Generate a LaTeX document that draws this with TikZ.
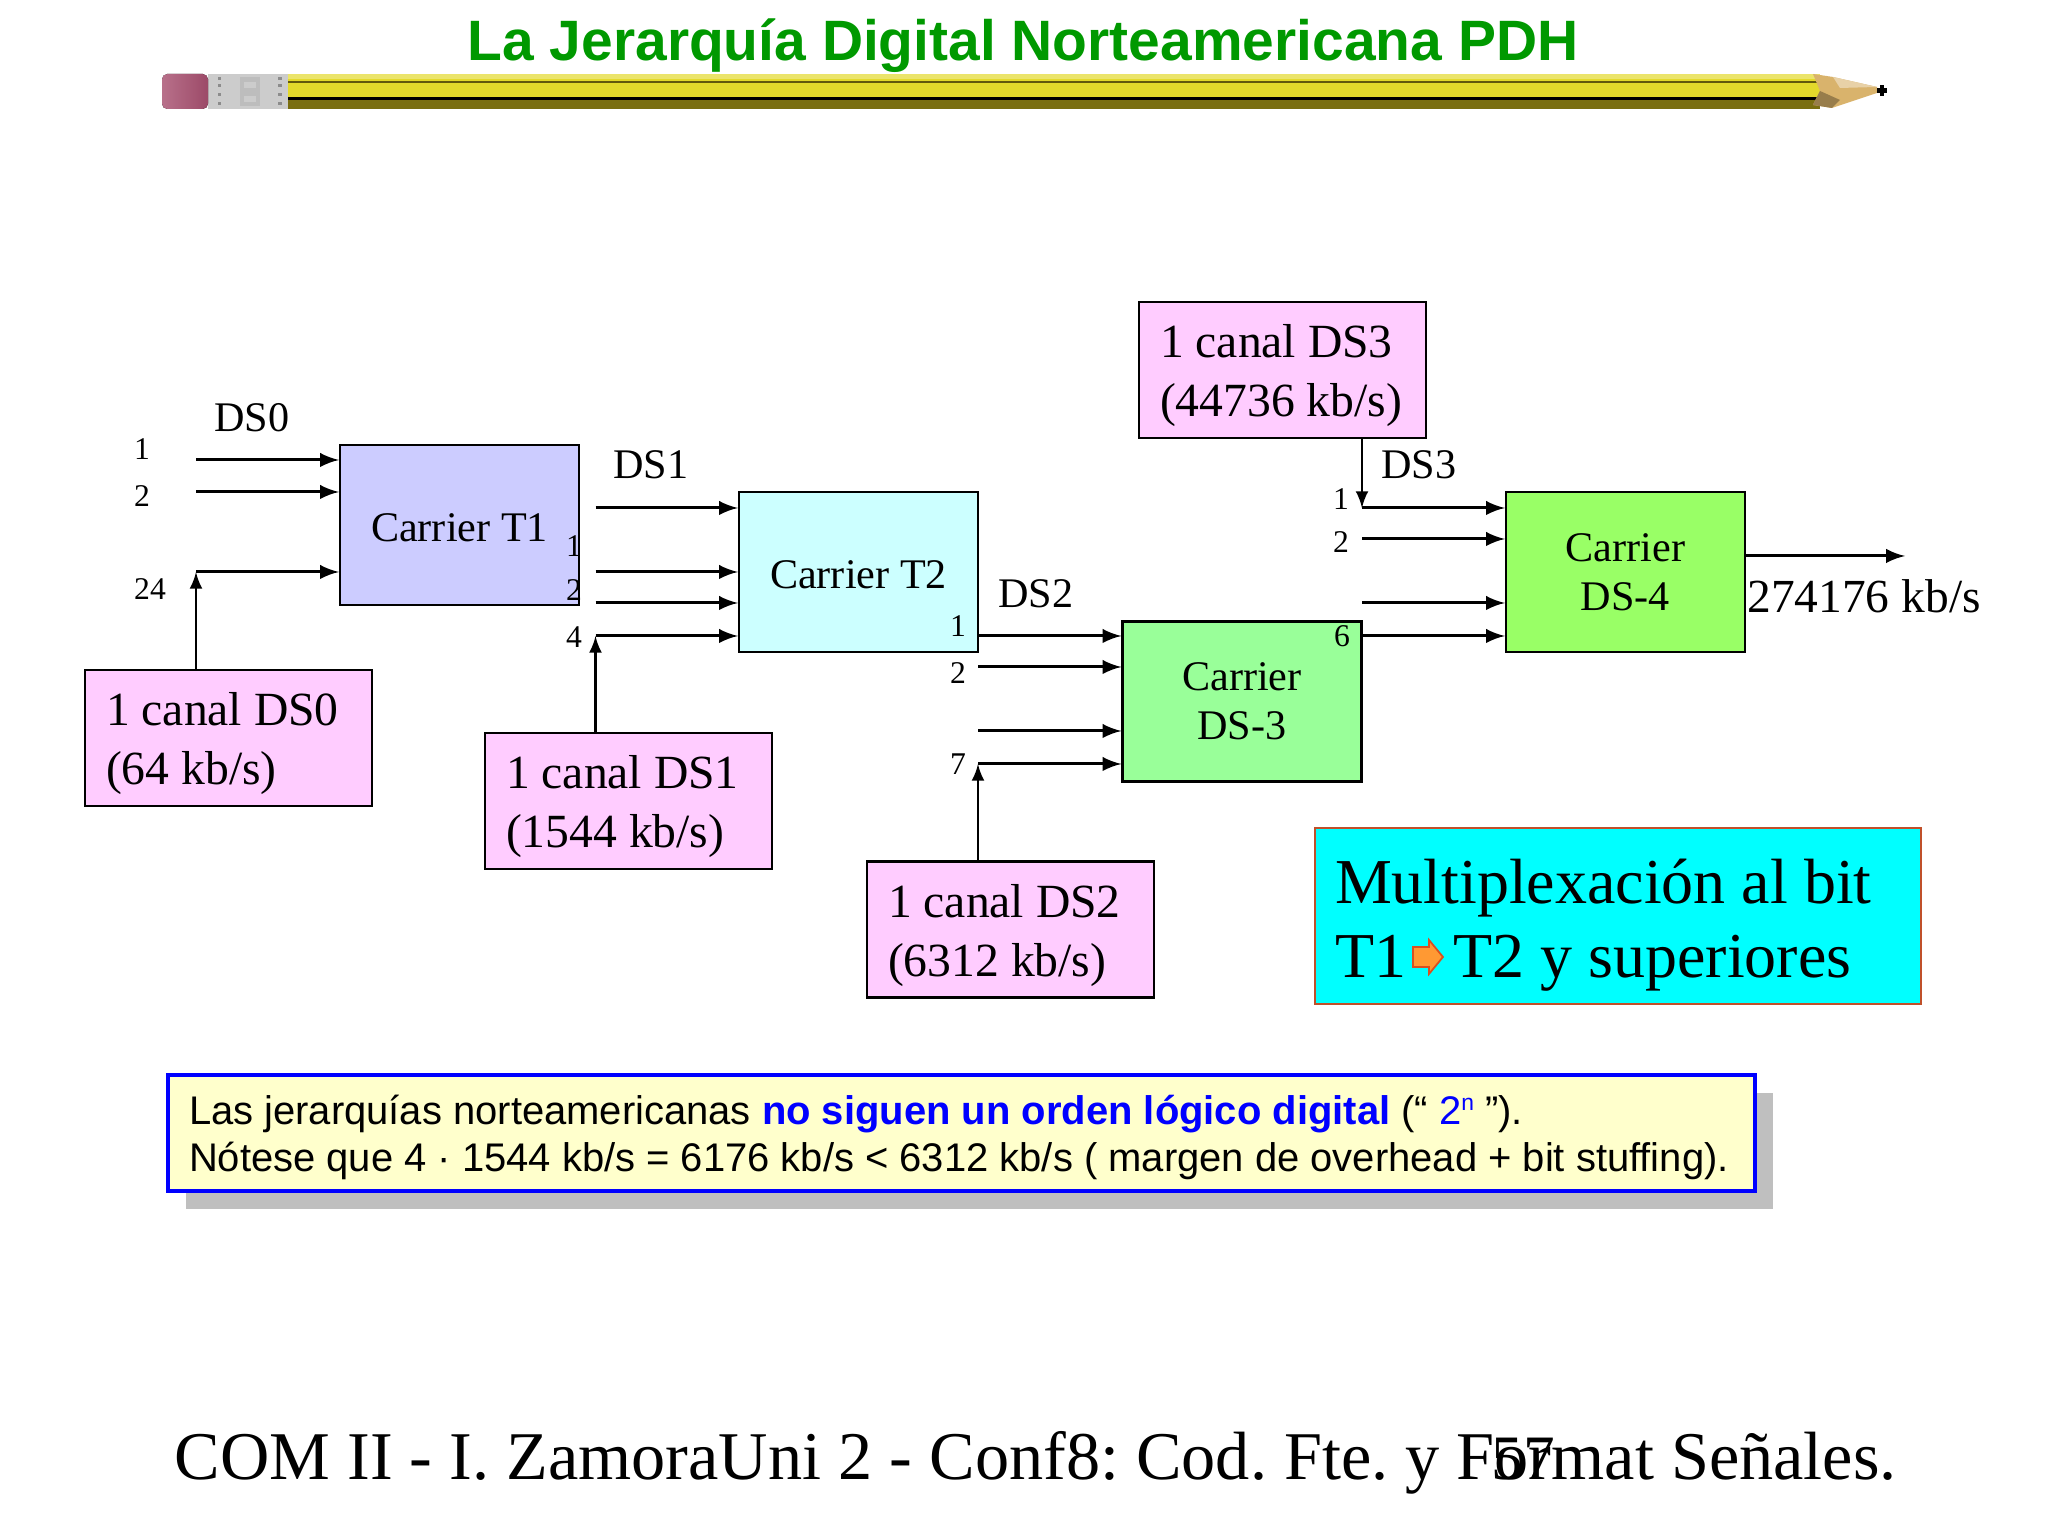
\documentclass[tikz,border=0pt]{standalone}
\usepackage{fontspec}
\setmainfont{Liberation Serif}
\newfontfamily\arialfont{Liberation Sans}
\usetikzlibrary{shadows}
\definecolor{pinkbox}{HTML}{FFCCFF}
\definecolor{tonebox}{HTML}{CCCCFF}
\definecolor{ttwobox}{HTML}{CCFFFF}
\definecolor{dsthreebox}{HTML}{99FF99}
\definecolor{dsfourbox}{HTML}{99FF66}
\definecolor{muxfill}{HTML}{00FFFF}
\definecolor{muxline}{HTML}{C0502A}
\definecolor{notefill}{HTML}{FFFFCC}
\definecolor{notegray}{HTML}{BFBFBF}
\definecolor{noteblue}{HTML}{0000FF}
\definecolor{titlegreen}{HTML}{009900}
\definecolor{pencilyellow}{HTML}{E3D92B}
\definecolor{pencilolive}{HTML}{7A6E10}
\definecolor{pencilwood}{HTML}{D9B36C}
\definecolor{eraserdark}{HTML}{9C4A68}
\definecolor{eraserlight}{HTML}{B8708A}
\definecolor{arrowfill}{HTML}{FF9933}
\definecolor{arrowline}{HTML}{D85020}
\tikzset{
  carrier/.style={draw,line width=0.6pt,minimum width=2.39cm,minimum height=1.60cm,inner sep=0pt,align=center,font=\fontsize{12}{14}\selectfont},
  canal/.style={draw,line width=0.6pt,fill=pinkbox,minimum width=2.87cm,minimum height=1.36cm,text width=2.45cm,inner xsep=0.21cm,inner ysep=0pt,align=flush left,font=\fontsize{13.55}{16.7}\selectfont,execute at begin node=\rule{0pt}{12.7pt}},
  tag/.style={inner sep=0pt,font=\fontsize{12}{14}\selectfont},
  num/.style={inner sep=0pt,font=\fontsize{9}{11}\selectfont},
  line/.style={line width=0.85pt,-latex},
  feed/.style={line width=0.65pt,-latex}
}
\begin{document}
\frenchspacing
\begin{tikzpicture}
  \useasboundingbox (0,0) rectangle (20.48,15.36);
  \fill[white] (0,0) rectangle (20.48,15.36); %baggrund
  \node (title) at (10.23,14.90) [inner sep=0pt,text=titlegreen,font=\arialfont\bfseries\fontsize{16.2}{19}\selectfont] {La Jerarquía Digital Norteamericana PDH}; %titel
  \fill[pencilyellow] (2.88,14.27) rectangle (18.20,14.62); %blyant
  \fill[pencilolive] (2.88,14.27) rectangle (18.20,14.36);
  \fill[black] (2.88,14.36) rectangle (18.20,14.39);
  \fill[pencilolive!80!black] (2.88,14.53) rectangle (18.20,14.55);
  \fill[pencilyellow!70!white] (2.88,14.57) rectangle (18.20,14.62);
  \fill[pencilwood] (18.13,14.62) -- (18.33,14.59) -- (18.77,14.49) -- (18.77,14.43) -- (18.32,14.28) -- (18.13,14.31) -- (18.20,14.45) -- cycle;
  \fill[pencilwood!60!white] (18.33,14.59) -- (18.77,14.49) -- (18.40,14.48) -- cycle;
  \fill[pencilwood!70!black] (18.13,14.31) -- (18.32,14.28) -- (18.40,14.36) -- (18.20,14.45) -- cycle;
  \fill[black] (18.77,14.43) rectangle (18.87,14.48);
  \fill[black] (18.80,14.40) rectangle (18.84,14.51);
  \fill[black!20] (2.08,14.27) rectangle (2.88,14.62); %metal
  \foreach \y in {14.32,14.41,14.50,14.57} {
    \fill[black!45] (2.18,\y-0.015) rectangle (2.21,\y+0.015);
    \fill[black!45] (2.78,\y-0.015) rectangle (2.82,\y+0.015);
  }
  \fill[black!26] (2.40,14.30) rectangle (2.60,14.59);
  \fill[black!20] (2.44,14.34) rectangle (2.56,14.40);
  \fill[black!20] (2.44,14.48) rectangle (2.56,14.54);
  \fill[rounded corners=1.5pt,left color=eraserlight,right color=eraserdark] (1.62,14.27) rectangle (2.08,14.62); %viskelaeder

  \node[carrier,fill=tonebox,execute at begin node=\rule{0pt}{9.7pt}] (t1) at (4.595,10.11) {Carrier T1};
  \node[carrier,fill=ttwobox,execute at begin node=\rule{0pt}{9.7pt}] (t2) at (8.585,9.64) {Carrier T2};
  \node[carrier,fill=dsthreebox,execute at begin node=\rule{0pt}{9pt}] (ds3) at (12.42,8.345) {Carrier\\DS-3};
  \node[carrier,fill=dsfourbox,execute at begin node=\rule{0pt}{9pt}] (ds4) at (16.255,9.64) {Carrier\\DS-4};

  \node[canal] (canal0) at (2.285,7.98) {1 canal DS0\\(64 kb/s)};
  \node[canal] (canal1) at (6.285,7.35) {1 canal DS1\\(1544 kb/s)};
  \node[canal] (canal2) at (10.105,6.065) {1 canal DS2\\(6312 kb/s)};
  \node[canal] (canal3) at (12.825,11.66) {1 canal DS3\\(44736 kb/s)};

  \coordinate (a1) at (1.96,10.76); %ind T1
  \coordinate (a2) at (1.96,10.44);
  \coordinate (a3) at (1.96,9.64);
  \coordinate (b1) at (5.955,10.28); %ind T2
  \coordinate (b2) at (5.955,9.64);
  \coordinate (b3) at (5.955,9.33);
  \coordinate (b4) at (5.955,9.00);
  \coordinate (c1) at (9.78,9.00); %ind DS-3
  \coordinate (c2) at (9.78,8.69);
  \coordinate (c3) at (9.78,8.05);
  \coordinate (c4) at (9.78,7.72);
  \coordinate (d1) at (13.62,10.28); %ind DS-4
  \coordinate (d2) at (13.62,9.97);
  \coordinate (d3) at (13.62,9.33);
  \coordinate (d4) at (13.62,9.00);
  \coordinate (e1) at (16.255,9.80); %ud DS-4
  \coordinate (e2) at (19.05,9.80);

  \foreach \p in {a1,a2,a3} \draw[line] (\p) -- (\p -| t1.west);
  \foreach \p in {b1,b2,b3,b4} \draw[line] (\p) -- (\p -| t2.west);
  \foreach \p in {c1,c2,c3,c4} \draw[line] (\p) -- (\p -| ds3.west);
  \foreach \p in {d1,d2,d3,d4} \draw[line] (\p) -- (\p -| ds4.west);
  \draw[line] (e1 -| ds4.east) -- (e2);
  \draw[feed] (canal0.north -| a3) -- (a3);
  \draw[feed] (canal1.north -| b4) -- (b4);
  \draw[feed] (canal2.north -| c4) -- (c4);
  \draw[feed] (canal3.south -| d1) -- (d1);

  \node[tag] (l0) at (2.52,11.18) {DS0};
  \node[tag] (l1) at (6.51,10.71) {DS1};
  \node[tag] (l2) at (10.36,9.42) {DS2};
  \node[tag] (l3) at (14.19,10.71) {DS3};
  \node[num] (n1) at (1.42,10.87) {1};
  \node[num] (n2) at (1.42,10.40) {2};
  \node[num] (n3) at (1.50,9.47) {24};
  \node[num] (n4) at (5.74,9.90) {1};
  \node[num] (n5) at (5.74,9.46) {2};
  \node[num] (n6) at (5.74,8.99) {4};
  \node[num] (n7) at (9.58,9.10) {1};
  \node[num] (n8) at (9.58,8.63) {2};
  \node[num] (n9) at (9.58,7.72) {7};
  \node[num] (n10) at (13.41,10.37) {1};
  \node[num] (n11) at (13.41,9.94) {2};
  \node[num] (n12) at (13.42,9.00) {6};
  \node[inner sep=0pt,font=\fontsize{13.5}{16}\selectfont] (rate) at (18.64,9.40) {274176 kb/s};

  \node[draw=muxline,line width=0.6pt,fill=muxfill,minimum width=6.06cm,minimum height=1.76cm,text width=5.66cm,inner xsep=0.20cm,inner ysep=0pt,align=flush left,font=\fontsize{18.2}{21}\selectfont,execute at begin node=\rule{0pt}{17.7pt}] (mux) at (16.18,6.20) {Multiplexación al bit\\T1\hspace*{13.5pt}T2 y superiores};
  \draw[arrowline,fill=arrowfill,line width=0.5pt] (14.13,5.69) -- (14.29,5.69) -- (14.29,5.62) -- (14.43,5.79) -- (14.29,5.96) -- (14.29,5.89) -- (14.13,5.89) -- cycle; %pil

  \node[draw=noteblue,line width=1pt,fill=notefill,minimum width=15.87cm,minimum height=1.16cm,text width=15.45cm,inner xsep=0.21cm,inner ysep=0pt,align=flush left,font=\arialfont\fontsize{11.37}{13.4}\selectfont,execute at begin node=\rule{0pt}{11.1pt},drop shadow={shadow xshift=0.18cm,shadow yshift=-0.18cm,fill=notegray,opacity=1}] (note) at (9.615,4.03) {Las jerarquías norteamericanas \textcolor{noteblue}{\bfseries no siguen un orden lógico digital} (“ \textcolor{noteblue}{2\raisebox{0.35em}{\fontsize{6.5}{7}\selectfont n}} ”).\\Nótese que 4 · 1544 kb/s = 6176 kb/s < 6312 kb/s ( margen de overhead + bit stuffing).};

  \node[anchor=base west,inner sep=0pt,font=\fontsize{19.43}{23}\selectfont] (footer) at (1.74,0.56) {COM II - I. ZamoraUni 2 - Conf8: Cod. Fte. y Format Señales.};
  \node[anchor=base west,inner sep=0pt,font=\fontsize{18}{21}\selectfont] (page) at (14.91,0.56) {57};
\end{tikzpicture}
\end{document}
